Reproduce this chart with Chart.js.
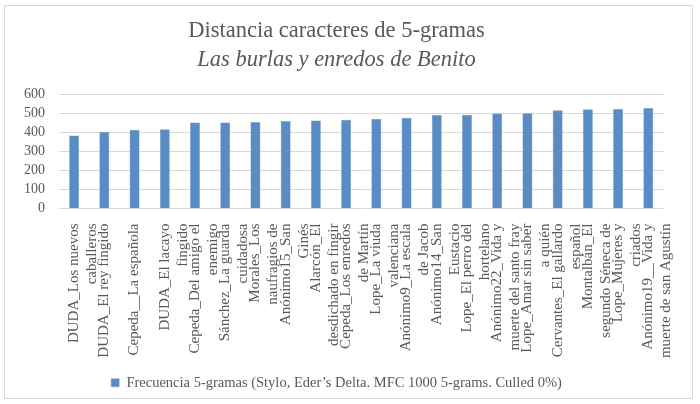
<!DOCTYPE html>
<html>
<head>
<meta charset="utf-8">
<script src="https://cdn.jsdelivr.net/npm/chart.js@4"></script>
<style>
  html, body { margin: 0; padding: 0; background: #fff; }
  #wrap { width: 700px; height: 404px; position: relative; }
</style>
</head>
<body>
<div id="wrap"><canvas id="chart"></canvas></div>
<script>
// etiquetas de las obras (dos líneas, como en el original)
const categories = [
  ["DUDA_Los nuevos", "caballeros"],
  ["DUDA_El rey fingido"],
  ["Cepeda__La española"],
  ["DUDA_El lacayo", "fingido"],
  ["Cepeda_Del amigo el", "enemigo"],
  ["Sánchez_La guarda", "cuidadosa"],
  ["Morales_Los", "naufragios de"],
  ["Anónimo15_San", "Ginés"],
  ["Alarcón_El", "desdichado en fingir"],
  ["Cepeda_Los enredos", "de Martín"],
  ["Lope_La viuda", "valenciana"],
  ["Anónimo9_La escala", "de Jacob"],
  ["Anónimo14_San", "Eustacio"],
  ["Lope_El perro del", "hortelano"],
  ["Anónimo22_Vida y", "muerte del santo fray"],
  ["Lope_Amar sin saber", "a quién"],
  ["Cervantes_El gallardo", "español"],
  ["Montalbán_El", "segundo Séneca de"],
  ["Lope_Mujeres y", "criados"],
  ["Anónimo19__Vida y", "muerte de san Agustín"],
];

const distancias = [382, 402, 413, 415, 451, 451, 453, 459, 461, 465,
                    470, 475, 490, 491, 498, 499, 515, 520, 522, 526];

const seriesName = "Frecuencia 5-gramas (Stylo, Eder’s Delta. MFC 1000 5-grams. Culled 0%)";
const titleText = "Distancia caracteres de 5-gramas";
const subtitleText = "Las burlas y enredos de Benito";

const textColor = "#595959";
const serif = "'Liberation Serif', 'DejaVu Serif', serif";

// fondo blanco y marco gris
const framePlugin = {
  id: "frame",
  beforeDraw(chart) {
    const ctx = chart.ctx;
    ctx.save();
    ctx.fillStyle = "#ffffff";
    ctx.fillRect(0, 0, chart.width, chart.height);
    ctx.strokeStyle = "#d9d9d9";
    ctx.lineWidth = 1;
    ctx.strokeRect(4.5, 5.5, 688, 393);
    ctx.restore();
  },
};

new Chart(document.getElementById("chart"), {
  type: "bar",
  data: {
    labels: categories,
    datasets: [
      {
        label: seriesName,
        data: distancias,
        backgroundColor: "#5b8bc4",
        borderColor: "#6f9acd",
        borderWidth: 0.5,
        categoryPercentage: 1,
        barPercentage: 0.33,
      },
    ],
  },
  options: {
    responsive: true,
    maintainAspectRatio: false,
    animation: false,
    layout: { padding: { left: 0, right: 27, top: 0, bottom: 4 } },
    plugins: {
      title: {
        display: true,
        text: titleText,
        color: textColor,
        font: { family: serif, size: 22.5, weight: "normal" },
        padding: { top: 18, bottom: 2 },
      },
      subtitle: {
        display: true,
        text: subtitleText,
        color: textColor,
        font: { family: serif, size: 22.5, style: "italic", weight: "normal" },
        padding: { top: 0, bottom: 20 },
      },
      legend: {
        position: "bottom",
        labels: {
          color: textColor,
          font: { family: serif, size: 14.5 },
          boxWidth: 8,
          boxHeight: 8,
          padding: 10,
        },
      },
      tooltip: { enabled: false },
    },
    scales: {
      x: {
        grid: { display: false, drawTicks: false },
        border: { display: false },
        ticks: {
          color: textColor,
          font: { family: serif, size: 15, lineHeight: 1.2 },
          minRotation: 90,
          maxRotation: 90,
          autoSkip: false,
          padding: 15,
        },
        afterFit(scale) { scale.height = 157; },
      },
      y: {
        min: 0,
        max: 600,
        grid: { color: "#d9d9d9", drawTicks: false },
        border: { display: false },
        ticks: {
          stepSize: 100,
          autoSkip: false,
          color: textColor,
          font: { family: serif, size: 14 },
          padding: 14,
        },
        afterFit(scale) { scale.width = 59; },
      },
    },
  },
  plugins: [framePlugin],
});
</script>
</body>
</html>
